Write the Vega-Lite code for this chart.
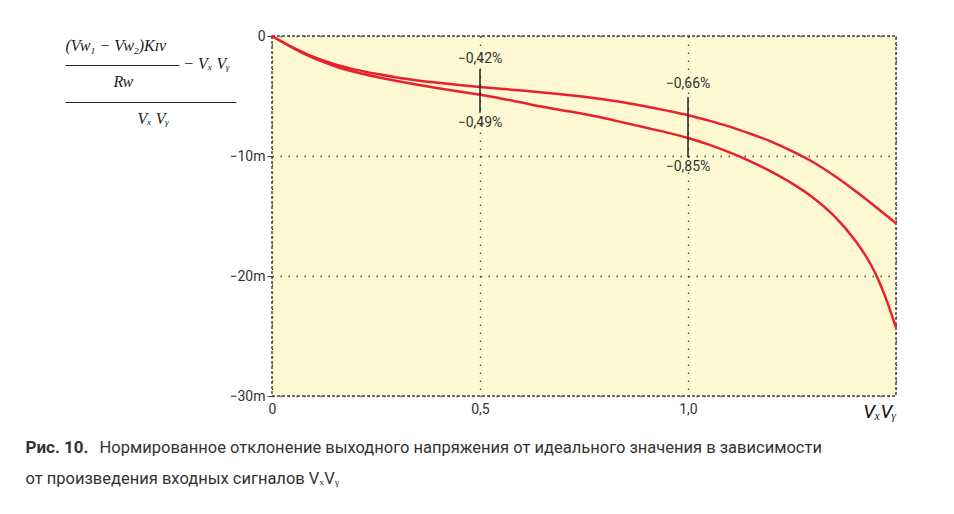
{
  "$schema": "https://vega.github.io/schema/vega-lite/v6.json",
  "width": 624,
  "height": 360,
  "autosize": "none",
  "padding": {"left": 272, "top": 36, "right": 58, "bottom": 118},
  "background": "white",
  "config": {
    "view": {"fill": "#fef9d3", "stroke": "#444", "strokeWidth": 1.5, "strokeDash": [3, 2]},
    "font": "Roboto",
    "axis": {
      "grid": true, "gridColor": "#444", "gridDash": [1.5, 6.5], "gridWidth": 1.3, "gridOpacity": 1,
      "domain": false, "labelColor": "#333", "labelFontSize": 14, "tickColor": "#444", "titleColor": "#333"
    }
  },
  "datasets": {
    "curves": [
      {"s": "a", "x": 0, "y": 0}, {"s": "a", "x": 0.025, "y": -0.5}, {"s": "a", "x": 0.05, "y": -0.95},
      {"s": "a", "x": 0.1, "y": -1.75}, {"s": "a", "x": 0.15, "y": -2.35}, {"s": "a", "x": 0.2, "y": -2.8},
      {"s": "a", "x": 0.25, "y": -3.15}, {"s": "a", "x": 0.3, "y": -3.45}, {"s": "a", "x": 0.35, "y": -3.7},
      {"s": "a", "x": 0.4, "y": -3.9}, {"s": "a", "x": 0.45, "y": -4.08}, {"s": "a", "x": 0.5, "y": -4.25},
      {"s": "a", "x": 0.55, "y": -4.4}, {"s": "a", "x": 0.6, "y": -4.55}, {"s": "a", "x": 0.65, "y": -4.7},
      {"s": "a", "x": 0.7, "y": -4.87}, {"s": "a", "x": 0.75, "y": -5.07}, {"s": "a", "x": 0.8, "y": -5.3},
      {"s": "a", "x": 0.85, "y": -5.56}, {"s": "a", "x": 0.9, "y": -5.87}, {"s": "a", "x": 0.95, "y": -6.22},
      {"s": "a", "x": 1.0, "y": -6.6}, {"s": "a", "x": 1.05, "y": -7.05}, {"s": "a", "x": 1.1, "y": -7.55},
      {"s": "a", "x": 1.15, "y": -8.15}, {"s": "a", "x": 1.2, "y": -8.8}, {"s": "a", "x": 1.25, "y": -9.6},
      {"s": "a", "x": 1.3, "y": -10.5}, {"s": "a", "x": 1.35, "y": -11.6}, {"s": "a", "x": 1.4, "y": -12.85},
      {"s": "a", "x": 1.45, "y": -14.2}, {"s": "a", "x": 1.5, "y": -15.6},
      {"s": "b", "x": 0, "y": 0}, {"s": "b", "x": 0.025, "y": -0.5}, {"s": "b", "x": 0.05, "y": -1.0},
      {"s": "b", "x": 0.1, "y": -1.85}, {"s": "b", "x": 0.15, "y": -2.5}, {"s": "b", "x": 0.2, "y": -3.0},
      {"s": "b", "x": 0.25, "y": -3.4}, {"s": "b", "x": 0.3, "y": -3.75}, {"s": "b", "x": 0.35, "y": -4.07},
      {"s": "b", "x": 0.4, "y": -4.36}, {"s": "b", "x": 0.45, "y": -4.63}, {"s": "b", "x": 0.5, "y": -4.9},
      {"s": "b", "x": 0.55, "y": -5.2}, {"s": "b", "x": 0.6, "y": -5.55}, {"s": "b", "x": 0.65, "y": -5.9},
      {"s": "b", "x": 0.7, "y": -6.2}, {"s": "b", "x": 0.75, "y": -6.5}, {"s": "b", "x": 0.8, "y": -6.85},
      {"s": "b", "x": 0.85, "y": -7.25}, {"s": "b", "x": 0.9, "y": -7.65}, {"s": "b", "x": 0.95, "y": -8.05},
      {"s": "b", "x": 1.0, "y": -8.5}, {"s": "b", "x": 1.05, "y": -9.05}, {"s": "b", "x": 1.1, "y": -9.7},
      {"s": "b", "x": 1.15, "y": -10.45}, {"s": "b", "x": 1.2, "y": -11.3}, {"s": "b", "x": 1.25, "y": -12.28},
      {"s": "b", "x": 1.3, "y": -13.45}, {"s": "b", "x": 1.35, "y": -14.95}, {"s": "b", "x": 1.4, "y": -16.95},
      {"s": "b", "x": 1.425, "y": -18.2}, {"s": "b", "x": 1.45, "y": -19.75}, {"s": "b", "x": 1.475, "y": -21.8},
      {"s": "b", "x": 1.5, "y": -24.3}
    ],
    "marks": [
      {"x": 0.5, "y1": -2.75, "y2": -6.4},
      {"x": 1.0, "y1": -5.1, "y2": -10.1}
    ],
    "labels": [
      {"x": 0.5, "y": -1.9, "label": "−0,42%"},
      {"x": 0.5, "y": -7.25, "label": "−0,49%"},
      {"x": 1.0, "y": -4.0, "label": "−0,66%"},
      {"x": 1.0, "y": -10.9, "label": "−0,85%"}
    ]
  },
  "resolve": {"axis": {"x": "independent", "y": "independent"}},
  "layer": [
    {
      "data": {"name": "curves"},
      "mark": {"type": "line", "color": "#e8212a", "strokeWidth": 2.5, "interpolate": "monotone"},
      "encoding": {
        "x": {
          "field": "x", "type": "quantitative",
          "scale": {"domain": [0, 1.5], "nice": false, "zero": false},
          "axis": {
            "values": [0, 0.5, 1, 1.5], "ticks": false, "labelPadding": 6, "labelFlush": false, "labelOverlap": false,
            "labelExpr": "datum.value == 0 ? '0' : datum.value == 1.5 ? 'VₓVᵧ' : replace(format(datum.value, '.1f'), '.', ',')",
            "labelAlign": {"condition": {"test": "datum.value == 1.5", "value": "right"}, "value": "center"},
            "labelFontSize": {"condition": {"test": "datum.value == 1.5", "value": 19}, "value": 14},
            "labelFontStyle": {"condition": {"test": "datum.value == 1.5", "value": "italic"}, "value": "normal"},
            "labelColor": {"condition": {"test": "datum.value == 1.5", "value": "#111"}, "value": "#333"},
            "title": "от произведения входных сигналов VₓVᵧ",
            "titleX": -247, "titleY": 82, "titleAlign": "left", "titleBaseline": "middle",
            "titleFontSize": 16.5, "titleFontWeight": "normal", "titleColor": "#333"
          }
        },
        "y": {
          "field": "y", "type": "quantitative",
          "scale": {"domain": [-30, 0], "nice": false},
          "axis": {
            "values": [0, -10, -20, -30], "tickSize": 5, "labelPadding": 2,
            "labelExpr": "datum.value == 0 ? '0' : '−' + abs(datum.value) + 'm'",
            "title": ["(Vᴡ₁ − Vᴡ₂)Kɪᴠ", "———————— − Vₓ Vᵧ", "⠀⠀⠀⠀Rᴡ", "————————————", "⠀⠀⠀⠀⠀⠀Vₓ Vᵧ"],
            "titleAngle": 0, "titleX": -207, "titleY": 1, "titleAlign": "left", "titleBaseline": "top",
            "titleFont": "Liberation Serif", "titleFontStyle": "italic", "titleFontSize": 16,
            "titleFontWeight": "normal", "titleLineHeight": 18.4, "titleColor": "#222"
          }
        },
        "detail": {"field": "s"}
      }
    },
    {
      "data": {"name": "marks"},
      "mark": {"type": "rule", "color": "#222", "strokeWidth": 1.5},
      "encoding": {
        "x": {"field": "x", "type": "quantitative", "axis": null},
        "y": {"field": "y1", "type": "quantitative", "axis": null},
        "y2": {"field": "y2"}
      }
    },
    {
      "data": {"name": "labels"},
      "mark": {"type": "text", "color": "#333", "fontSize": 14, "baseline": "middle", "align": "center"},
      "encoding": {
        "x": {"field": "x", "type": "quantitative", "axis": null},
        "y": {"field": "y", "type": "quantitative", "axis": null},
        "text": {"field": "label"}
      }
    },
    {
      "data": {"name": "curves"},
      "mark": {"type": "line", "strokeOpacity": 0},
      "encoding": {
        "x": {
          "field": "x", "type": "quantitative",
          "axis": {
            "orient": "top", "labels": false, "ticks": false, "grid": false, "domain": false,
            "title": "Рис. 10.", "titleX": -247, "titleY": 411, "titleAlign": "left", "titleBaseline": "middle",
            "titleFontSize": 17, "titleFontWeight": "bold", "titleColor": "#333"
          }
        },
        "y": {
          "field": "y", "type": "quantitative",
          "axis": {
            "orient": "right", "labels": false, "ticks": false, "grid": false, "domain": false,
            "title": "Нормированное отклонение выходного напряжения от идеального значения в зависимости",
            "titleAngle": 0, "titleX": -797, "titleY": 411, "titleAlign": "left", "titleBaseline": "middle",
            "titleFontSize": 16.5, "titleFontWeight": "normal", "titleColor": "#333"
          }
        },
        "detail": {"field": "s"}
      }
    }
  ]
}
